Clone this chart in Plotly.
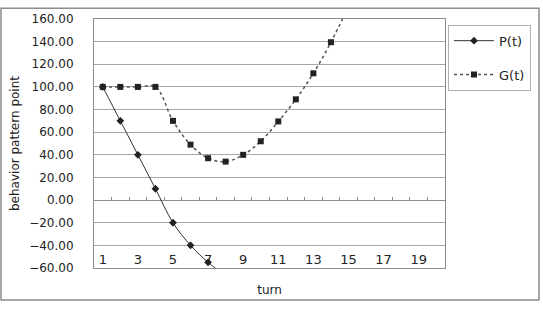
import plotly.graph_objects as go

turns = list(range(1, 21))
p_turns = [1, 2, 3, 4, 5, 6, 7, 8]
p_values = [100, 70, 40, 10, -20, -40, -55, -67]
g_turns = [1, 2, 3, 4, 5, 6, 7, 8, 9, 10, 11, 12, 13, 14, 15]
g_values = [100, 100, 100, 100, 70, 49, 37, 34, 40, 52, 69.5, 89, 112, 139.5, 171]
x_tick_labels = [1, 3, 5, 7, 9, 11, 13, 15, 17, 19]
y_ticks = [-60, -40, -20, 0, 20, 40, 60, 80, 100, 120, 140, 160]

FONT = "DejaVu Sans"
GRID = "#a6a6a6"
BORDER = "#8c8c8c"

fig = go.Figure()
fig.add_trace(go.Scatter(
    x=p_turns, y=p_values, name="P(t)", mode="lines+markers",
    line=dict(color="#333333", width=1, shape="spline"),
    marker=dict(symbol="diamond", size=6, color="#222222"),
    legendgroup="p",
))
fig.add_trace(go.Scatter(
    x=g_turns, y=g_values, name="G(t)", mode="lines+markers",
    line=dict(color="#555555", width=1.5, dash="dot", shape="spline"),
    marker=dict(symbol="square", size=6, color="#222222"),
    legendgroup="g",
))
# invisible helper traces so the overlay axes (category ticks / labels) are drawn
for ax in ("x2", "x3"):
    fig.add_trace(go.Scatter(x=[None], y=[None], xaxis=ax, yaxis="y",
                             showlegend=False, hoverinfo="skip", mode="lines"))

ymin, ymax = -60, 160
fig.update_layout(
    width=543, height=309,
    margin=dict(l=94, r=98, t=12, b=41),
    paper_bgcolor="white", plot_bgcolor="white",
    font=dict(family=FONT, size=12, color="#222222"),
    xaxis=dict(
        range=[0.5, 20.5], showticklabels=False,
        ticks="", showgrid=False, zeroline=False,
        showline=True, linecolor=BORDER, linewidth=1, mirror=True,
        title=dict(text="turn", standoff=17, font=dict(size=12)),
    ),
    xaxis2=dict(
        range=[0.5, 20.5], overlaying="x", anchor="free",
        position=(0 - ymin) / (ymax - ymin),
        tickmode="array", tickvals=[t + 0.5 for t in turns[:-1]],
        ticks="inside", ticklen=3, tickcolor=BORDER, showticklabels=False,
        showgrid=False, zeroline=False, showline=False,
    ),
    xaxis3=dict(
        range=[0.5, 20.5], overlaying="x", anchor="free",
        position=18 / 256, side="bottom",
        tickmode="array", tickvals=x_tick_labels,
        ticktext=[str(v) for v in x_tick_labels],
        ticks="", showgrid=False, zeroline=False, showline=False,
        tickfont=dict(size=13),
    ),
    yaxis=dict(
        range=[ymin, ymax], tickmode="array", tickvals=y_ticks,
        tickformat=".2f", showgrid=True, gridcolor=GRID, gridwidth=1,
        zeroline=True, zerolinecolor=BORDER, zerolinewidth=1,
        showline=True, linecolor=BORDER, linewidth=1, mirror=True,
        ticks="", ticklabelstandoff=17, tickfont=dict(size=12),
        title=dict(text="behavior pattern point", standoff=6, font=dict(size=12)),
    ),
    legend=dict(
        x=1.0085, y=0.977, xanchor="left", yanchor="top",
        bordercolor="#b0b0b0", borderwidth=1, bgcolor="white",
        traceorder="grouped", tracegroupgap=14, itemwidth=40,
        font=dict(size=13),
    ),
    showlegend=True,
)

# outer chart border
fig.add_shape(type="rect", xref="paper", yref="paper",
              x0=(1 - 94) / 351, x1=(539 - 94) / 351,
              y0=(268 - 301) / 256, y1=(268 - 1) / 256,
              line=dict(color="#8c8c8c", width=1.5), layer="below")

fig.write_html("out.html")
